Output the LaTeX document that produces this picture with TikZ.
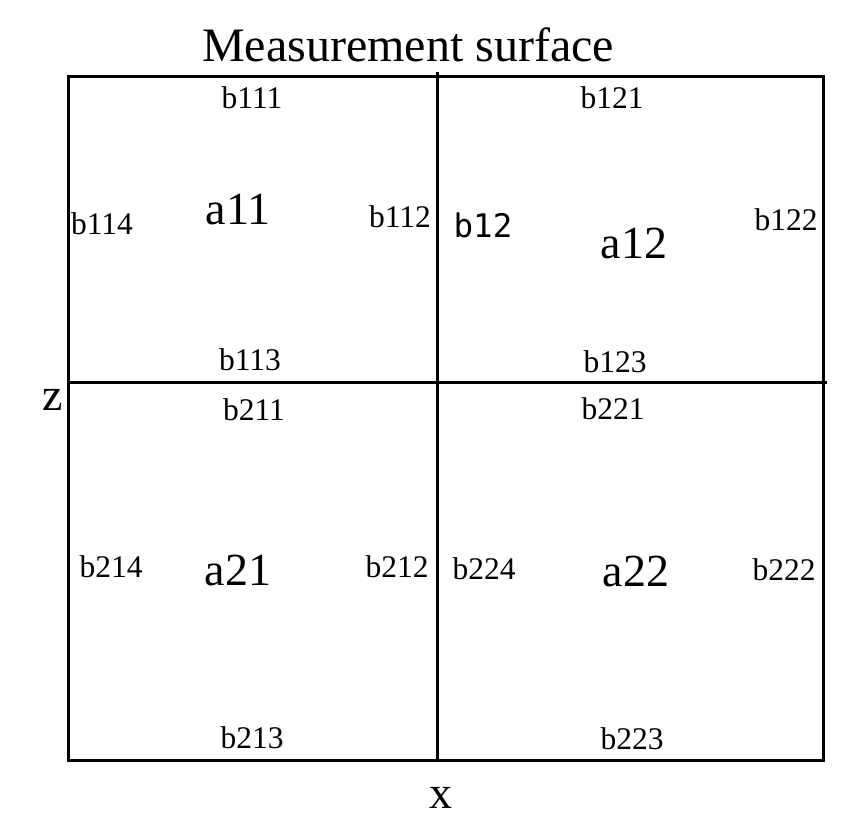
\documentclass[tikz,border=0pt]{standalone}
\usepackage{fontspec}
\setmainfont{Liberation Serif}
\setmonofont{DejaVu Sans Mono}
\begin{document}
\begin{tikzpicture}[x=1pt,y=-1pt,
  lbl/.style={font=\fontsize{31.5}{31.5}\selectfont, inner sep=0pt},
  big/.style={font=\fontsize{46}{46}\selectfont, inner sep=0pt},
  edge/.style={line width=3pt}]
\useasboundingbox (0,0) rectangle (852,837);
\coordinate (tl) at (68,77);
\coordinate (br) at (823.5,760.5);
\coordinate (vt) at (437.5,72);
\coordinate (vb) at (437.5,760.5);
\coordinate (hl) at (68,382.5);
\coordinate (hr) at (827,382.5);
\draw[edge] (tl) rectangle (br);
\draw[edge] (vt) -- (vb);
\draw[edge] (hl) -- (hr);
\node[font=\fontsize{48}{48}\selectfont, inner sep=0pt] (title) at (408,45) {Measurement surface};
\node[lbl] (b111) at (252,98) {b111};
\node[big] (a11) at (238,210) {a11};
\node[lbl] (b112) at (400,217) {b112};
\node[lbl] (b114) at (102,224) {b114};
\node[lbl] (b113) at (250,360) {b113};
\node[lbl] (b121) at (612,98) {b121};
\node[lbl,font=\ttfamily\fontsize{32.5}{32.5}\selectfont] (b12) at (483,225) {b12};
\node[big] (a12) at (634,243) {a12};
\node[lbl] (b122) at (786,220) {b122};
\node[lbl] (b123) at (615,362) {b123};
\node[big] (z) at (53,400) {z};
\node[lbl] (b211) at (254,410) {b211};
\node[lbl] (b221) at (613,409) {b221};
\node[lbl] (b214) at (111,567) {b214};
\node[big] (a21) at (238,570) {a21};
\node[lbl] (b212) at (397,567) {b212};
\node[lbl] (b224) at (484,569) {b224};
\node[big] (a22) at (636,571) {a22};
\node[lbl] (b222) at (784,570) {b222};
\node[lbl] (b213) at (252,738) {b213};
\node[lbl] (b223) at (632,739) {b223};
\node[big] (x) at (441,798) {x};
\end{tikzpicture}
\end{document}
